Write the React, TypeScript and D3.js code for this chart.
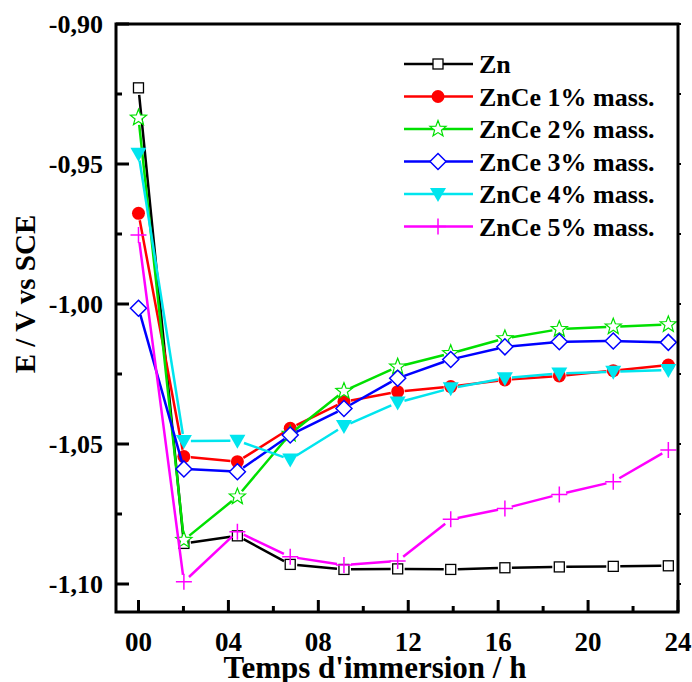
import React from "react";
import * as d3 from "d3";

const times = [0, 2.02, 4.4, 6.75, 9.14, 11.53, 13.89, 16.3, 18.72, 21.12, 23.57];
const seriesNames = ["Zn", "ZnCe 1% mass.", "ZnCe 2% mass.", "ZnCe 3% mass.", "ZnCe 4% mass.", "ZnCe 5% mass."];
const zn = [-0.9228, -1.0855, -1.0828, -1.093, -1.0948, -1.0946, -1.0948, -1.0942, -1.0939, -1.0937, -1.0935];
const znce1 = [-0.9676, -1.0545, -1.0563, -1.0444, -1.0349, -1.0313, -1.0295, -1.0271, -1.0257, -1.0238, -1.0218];
const znce2 = [-0.9335, -1.0843, -1.0688, -1.0464, -1.0311, -1.0224, -1.0176, -1.0123, -1.009, -1.0081, -1.0073];
const znce3 = [-1.0015, -1.0589, -1.0599, -1.0468, -1.0373, -1.0265, -1.0198, -1.0153, -1.0135, -1.0132, -1.0137];
const znce4 = [-0.9463, -1.0489, -1.0488, -1.0555, -1.0436, -1.0352, -1.0301, -1.0265, -1.0248, -1.0242, -1.0236];
const znce5 = [-0.9754, -1.0992, -1.0813, -1.0903, -1.0932, -1.0918, -1.0769, -1.073, -1.068, -1.0635, -1.0521];
const xTicks = [0, 4, 8, 12, 16, 20, 24];
const xTickLabels = ["00", "04", "08", "12", "16", "20", "24"];
const yTicks = [-0.9, -0.95, -1.0, -1.05, -1.1];
const yTickLabels = ["-0,90", "-0,95", "-1,00", "-1,05", "-1,10"];

const seriesValues = [zn, znce1, znce2, znce3, znce4, znce5];
const colors = ["#000000", "#ff0000", "#00e000", "#0000ff", "#00e5ee", "#ff00ff"];
const markers = ["square", "circle", "star", "diamond", "triangle", "plus"];

const FONT = "'Liberation Serif', 'Times New Roman', serif";

const left = 116, right = 678, top = 24, bottom = 612;
const x = d3.scaleLinear().domain([-1, 24]).range([left, right]);
const y = d3.scaleLinear().domain([-1.11, -0.9]).range([bottom, top]);

function markerEl(type: string, cx: number, cy: number, color: string, key: string) {
  switch (type) {
    case "square":
      return <rect key={key} x={cx - 5} y={cy - 5} width={10} height={10} fill="#fff" stroke={color} strokeWidth={1.3} />;
    case "circle":
      return <circle key={key} cx={cx} cy={cy} r={6.5} fill={color} />;
    case "star": {
      const pts: string[] = [];
      for (let i = 0; i < 10; i++) {
        const r = i % 2 === 0 ? 8.5 : 3.6;
        const a = -Math.PI / 2 + (i * Math.PI) / 5;
        pts.push(`${cx + r * Math.cos(a)},${cy + r * Math.sin(a)}`);
      }
      return <polygon key={key} points={pts.join(" ")} fill="#fff" stroke={color} strokeWidth={1.2} />;
    }
    case "diamond":
      return <polygon key={key} points={`${cx},${cy - 8} ${cx + 8},${cy} ${cx},${cy + 8} ${cx - 8},${cy}`} fill="#fff" stroke={color} strokeWidth={1.5} />;
    case "triangle":
      return <polygon key={key} points={`${cx - 8},${cy - 6} ${cx + 8},${cy - 6} ${cx},${cy + 8}`} fill={color} />;
    case "plus":
      return (
        <path key={key} d={`M${cx - 8},${cy}H${cx + 8}M${cx},${cy - 8}V${cy + 8}`} stroke={color} strokeWidth={1.5} fill="none" />
      );
  }
  return null;
}

function gappedSegments(pts: [number, number][], gap: number) {
  let d = "";
  for (let i = 0; i < pts.length - 1; i++) {
    const [x1, y1] = pts[i];
    const [x2, y2] = pts[i + 1];
    const dx = x2 - x1, dy = y2 - y1;
    const len = Math.hypot(dx, dy);
    if (len <= 2 * gap) continue;
    const ux = dx / len, uy = dy / len;
    d += `M${x1 + ux * gap},${y1 + uy * gap}L${x2 - ux * gap},${y2 - uy * gap}`;
  }
  return d;
}

export default function App() {
  const minorY = d3.range(-1.1, -0.899, 0.025);
  const minorX = [2, 6, 10, 14, 18, 22];
  return (
    <svg width={692} height={682} style={{ display: "block", position: "absolute", left: 0, top: 0 }}>
      <rect width={692} height={682} fill="#fff" />
      {/* series */}
      {seriesValues.map((vals, si) => {
        const pts = vals.map((v, i) => [x(times[i]), y(v)] as [number, number]);
        return (
          <g key={si}>
            <path d={gappedSegments(pts, 7)} stroke={colors[si]} strokeWidth={2.5} fill="none" />
            {pts.map((p, i) => markerEl(markers[si], p[0], p[1], colors[si], `${si}-${i}`))}
          </g>
        );
      })}
      {/* frame */}
      <rect x={left} y={top} width={right - left} height={bottom - top} fill="none" stroke="#000" strokeWidth={3} />
      {/* y ticks */}
      {minorY.map((v, i) => {
        const major = i % 2 === 0;
        return (
          <g key={"yt" + i}>
            <line x1={left} x2={left + (major ? 13 : 6)} y1={y(v)} y2={y(v)} stroke="#000" strokeWidth={3} />
            <line x1={right} x2={right + 3} y1={y(v)} y2={y(v)} stroke="#000" strokeWidth={2} />
          </g>
        );
      })}
      {yTicks.map((v, i) => (
        <text key={"yl" + i} x={103} y={y(v)} dy="0.35em" textAnchor="end" fontFamily={FONT} fontWeight="bold" fontSize={26}>
          {yTickLabels[i]}
        </text>
      ))}
      {/* x ticks */}
      {xTicks.map((t, i) => (
        <g key={"xt" + i}>
          <line x1={x(t)} x2={x(t)} y1={bottom} y2={bottom - 12} stroke="#000" strokeWidth={3} />
          <text x={x(t)} y={651} textAnchor="middle" fontFamily={FONT} fontWeight="bold" fontSize={27}>
            {xTickLabels[i]}
          </text>
        </g>
      ))}
      {minorX.map((t, i) => (
        <line key={"xm" + i} x1={x(t)} x2={x(t)} y1={bottom} y2={bottom - 6} stroke="#000" strokeWidth={3} />
      ))}
      {/* axis titles */}
      <text x={375} y={678} textAnchor="middle" fontFamily={FONT} fontWeight="bold" fontSize={31}>
        Temps d'immersion / h
      </text>
      <text transform={`translate(35,${294}) rotate(-90)`} textAnchor="middle" fontFamily={FONT} fontWeight="bold" fontSize={29}>
        E / V vs SCE
      </text>
      {/* legend */}
      {seriesNames.map((name, i) => {
        const ly = 64 + i * 32.5;
        return (
          <g key={"lg" + i}>
            <line x1={404} x2={473} y1={ly} y2={ly} stroke={colors[i]} strokeWidth={2.5} />
            {markerEl(markers[i], 438, ly, colors[i], "lm" + i)}
            <text x={479} y={ly} dy="0.35em" fontFamily={FONT} fontWeight="bold" fontSize={26}>
              {name}
            </text>
          </g>
        );
      })}
    </svg>
  );
}
